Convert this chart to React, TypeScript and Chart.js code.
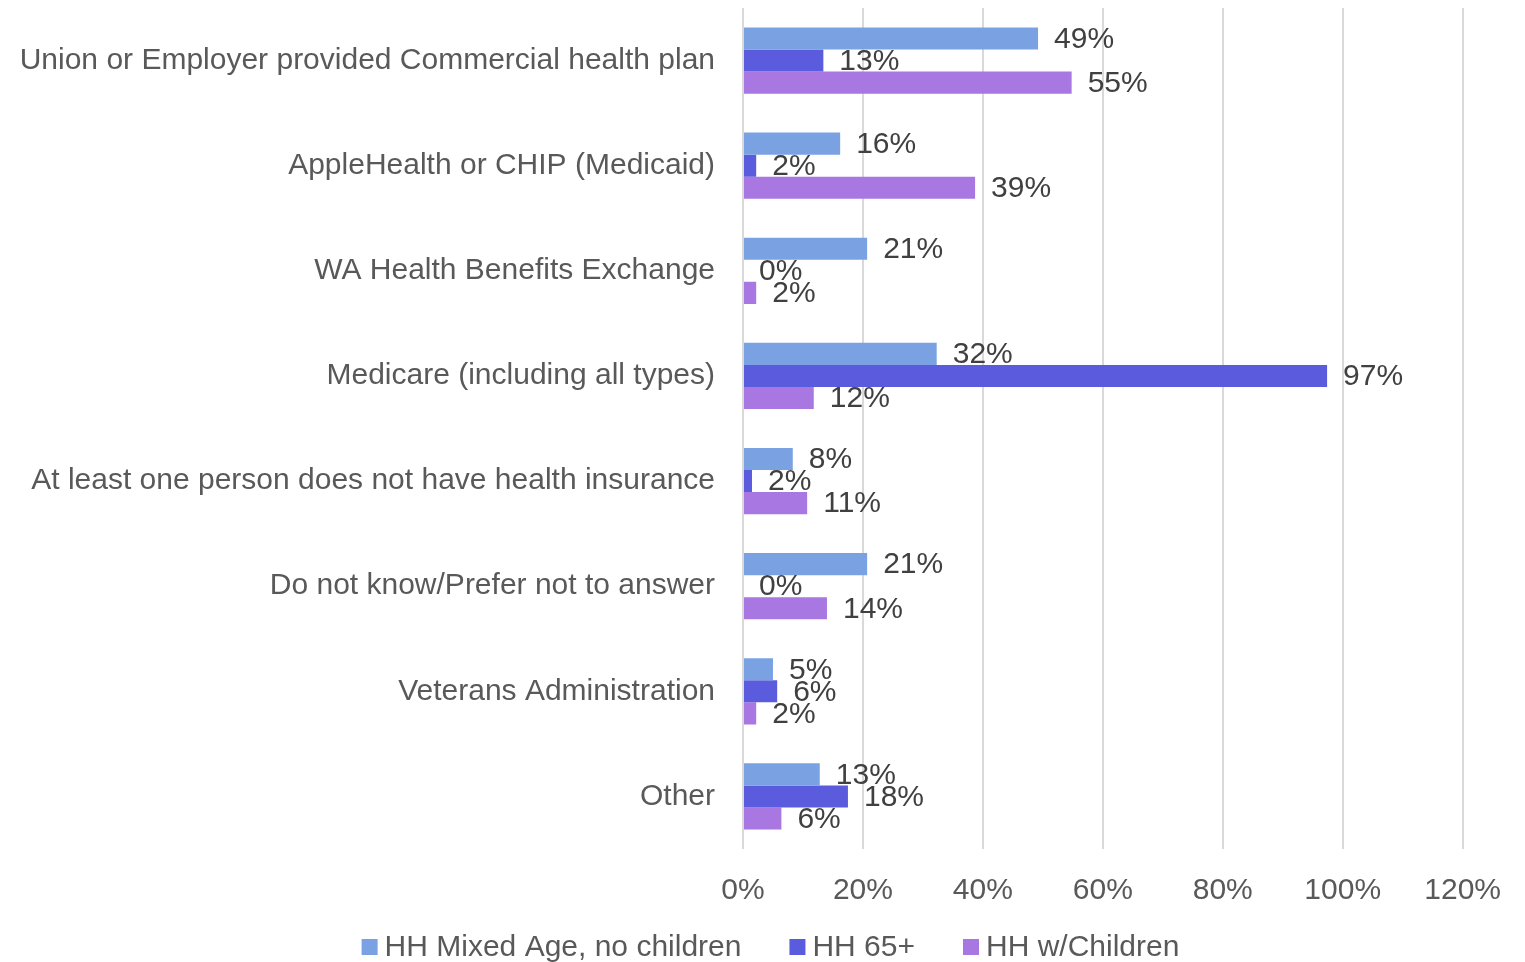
import React, { useEffect, useRef } from "react";
import { Chart, registerables } from "chart.js";

Chart.register(...registerables);

const categories = [
  "Union or Employer provided Commercial health plan",
  "AppleHealth or CHIP (Medicaid)",
  "WA Health Benefits Exchange",
  "Medicare (including all types)",
  "At least one person does not have health insurance",
  "Do not know/Prefer not to answer",
  "Veterans Administration",
  "Other",
];

const seriesNames = ["HH Mixed Age, no children", "HH 65+", "HH w/Children"];
const mixedAge = [49.2, 16.2, 20.7, 32.3, 8.3, 20.7, 5.0, 12.8];
const hh65 = [13.4, 2.2, 0, 97.4, 1.5, 0, 5.7, 17.5];
const withChildren = [54.8, 38.7, 2.2, 11.8, 10.7, 14.0, 2.2, 6.4];
const colors = ["#7AA2E3", "#5B5BDD", "#A877E2"];
const xTicks = [0, 20, 40, 60, 80, 100, 120];

const FONT = "'Liberation Sans', Arial, sans-serif";

const labelPlugin = {
  id: "barLabels",
  afterDatasetsDraw(chart: any) {
    const ctx = chart.ctx;
    ctx.save();
    ctx.font = "30px " + FONT;
    ctx.fillStyle = "#404040";
    ctx.textBaseline = "middle";
    ctx.textAlign = "left";
    chart.data.datasets.forEach((ds: any, i: number) => {
      const meta = chart.getDatasetMeta(i);
      meta.data.forEach((bar: any, j: number) => {
        const v = ds.data[j];
        ctx.fillText(Math.round(v) + "%", bar.x + 16, bar.y + 1);
      });
    });
    ctx.restore();
  },
};

const legendPlugin = {
  id: "customLegend",
  afterDraw(chart: any) {
    const ctx = chart.ctx;
    ctx.save();
    ctx.font = "30px " + FONT;
    ctx.textBaseline = "middle";
    ctx.textAlign = "left";
    const box = 16, gap = 7, spacing = 48;
    const widths = seriesNames.map((n) => box + gap + ctx.measureText(n).width);
    const total = widths.reduce((a, b) => a + b, 0) + spacing * (seriesNames.length - 1);
    let x = (chart.width - total) / 2 + 8;
    const y = 947;
    seriesNames.forEach((n, i) => {
      ctx.fillStyle = colors[i];
      ctx.fillRect(x, y - box / 2, box, box);
      ctx.fillStyle = "#595959";
      ctx.fillText(n, x + box + gap, y + 1);
      x += widths[i] + spacing;
    });
    ctx.restore();
  },
};

export default function App() {
  const ref = useRef<HTMLCanvasElement | null>(null);
  useEffect(() => {
    if (!ref.current) return;
    const chart = new Chart(ref.current, {
      type: "bar",
      data: {
        labels: categories,
        datasets: [mixedAge, hh65, withChildren].map((d, i) => ({
          label: seriesNames[i],
          data: d,
          backgroundColor: colors[i],
          borderWidth: 0,
          barPercentage: 1,
          categoryPercentage: 0.63,
        })),
      },
      options: {
        indexAxis: "y",
        animation: false,
        responsive: false,
        maintainAspectRatio: false,
        layout: { padding: { top: 8, right: 26, left: 0, bottom: 29 } },
        plugins: {
          legend: { display: false },
          tooltip: { enabled: false },
        },
        scales: {
          x: {
            min: 0,
            max: 120,
            afterBuildTicks: (s: any) => {
              s.ticks = xTicks.map((v) => ({ value: v }));
            },
            ticks: {
              callback: (v: any) => v + "%",
              color: "#595959",
              padding: 24,
              font: { size: 30, family: FONT },
              maxRotation: 0,
            },
            grid: { color: "#D9D9D9", lineWidth: 2, drawTicks: false },
            border: { display: false },
          },
          y: {
            afterFit: (s: any) => {
              s.width = 743;
              s.paddingTop = 0;
              s.paddingBottom = 0;
            },
            ticks: {
              color: "#595959",
              padding: 28,
              font: { size: 30, family: FONT },
            },
            grid: { display: false, drawTicks: false },
            border: { display: false },
          },
        },
      },
      plugins: [labelPlugin, legendPlugin],
    });
    return () => chart.destroy();
  }, []);
  return (
    <div style={{ position: "absolute", left: 0, top: 0, width: 1525, height: 962 }}>
      <canvas ref={ref} width={1525} height={962} style={{ width: 1525, height: 962 }} />
    </div>
  );
}
